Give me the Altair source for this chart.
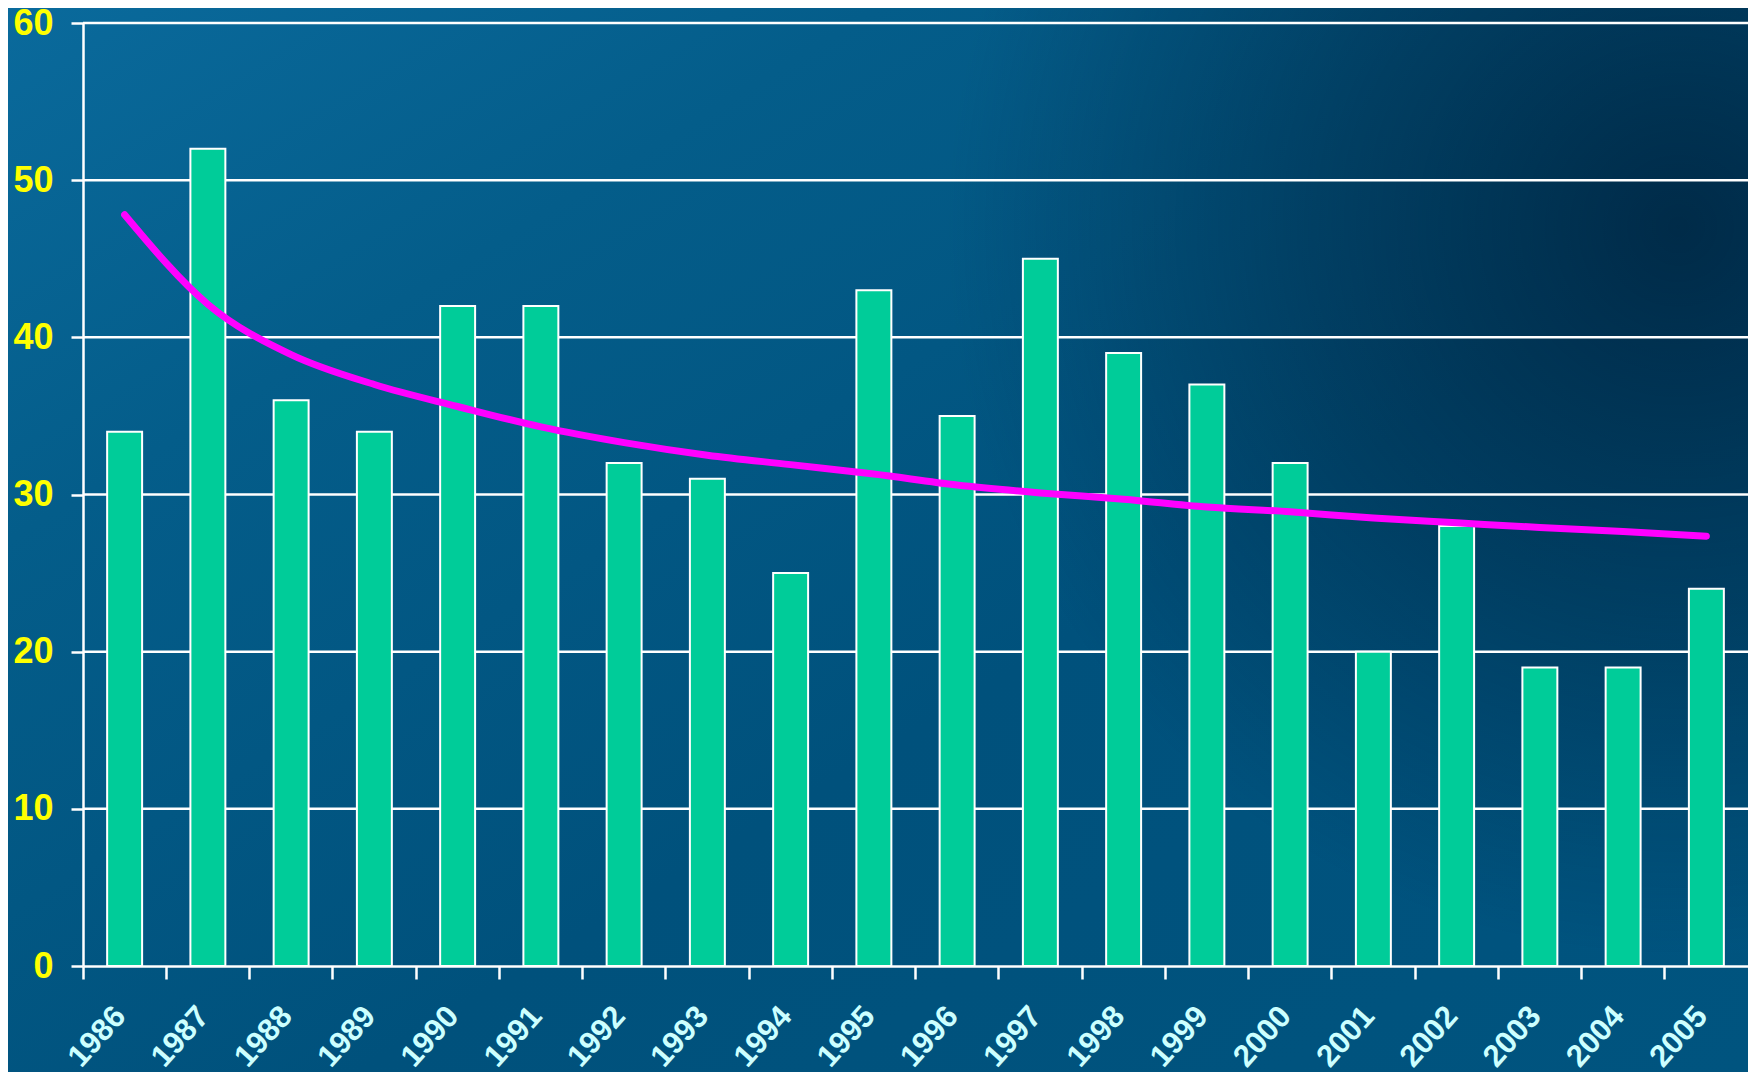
import altair as alt
import pandas as pd

# ---- data ----
years = [str(y) for y in range(1986, 2006)]
counts = [34, 52, 36, 34, 42, 42, 32, 31, 25, 43, 35, 45, 39, 37, 32, 20, 28, 19, 19, 24]
trend = [47.8, 42.1, 38.9, 37.0, 35.6, 34.3, 33.3, 32.5, 31.9, 31.3,
         30.6, 30.1, 29.7, 29.2, 28.9, 28.5, 28.2, 27.9, 27.65, 27.35]
y_ticks = [0, 10, 20, 30, 40, 50, 60]

W, H = 1665, 943
PL, PT, PR, PB = 75, 15, 0, 106

df = pd.DataFrame({"year": years, "count": counts, "trend": trend})
grid_df = pd.DataFrame({"v": y_ticks[1:]})
bg_df = pd.DataFrame({"k": [0]})

x_scale = alt.Scale(domain=years, paddingInner=0, paddingOuter=0)
y_scale = alt.Scale(domain=[0, 60], nice=False)

base_grad = alt.LinearGradient(
    gradient="linear", x1=0, y1=0, x2=1, y2=1,
    stops=[alt.GradientStop(color="#0a6a9c", offset=0),
           alt.GradientStop(color="#045d8a", offset=0.25),
           alt.GradientStop(color="#00517c", offset=0.6),
           alt.GradientStop(color="#00547f", offset=1)])
dark_grad = alt.RadialGradient(
    gradient="radial", x1=0.96, y1=0.32, x2=0.96, y2=0.32, r1=0, r2=0.42,
    stops=[alt.GradientStop(color="rgba(0,30,55,0.75)", offset=0),
           alt.GradientStop(color="rgba(0,30,55,0.4)", offset=0.5),
           alt.GradientStop(color="rgba(0,30,55,0)", offset=1)])

bg = alt.Chart(bg_df).mark_rect(fill=base_grad).encode(
    x=alt.value(-PL), x2=alt.value(W + PR), y=alt.value(-PT), y2=alt.value(H + PB))
bg2 = alt.Chart(bg_df).mark_rect(fill=dark_grad).encode(
    x=alt.value(-PL), x2=alt.value(W + PR), y=alt.value(-PT), y2=alt.value(H + PB))

y_axis = alt.Axis(title=None, values=y_ticks, labelFontSize=36,
                  labelFont="Liberation Sans", labelFontWeight="bold",
                  labelColor="#FFFF00", labelPadding=18, tickSize=12,
                  tickColor="white", tickWidth=2.5, domainColor="white",
                  domainWidth=2.5, grid=False, zindex=1, labelFlush=False,
                  labelOverlap=False, labelBound=False)
x_axis = alt.Axis(title=None, bandPosition=0, labelOffset=-4, labelAngle=-48,
                  labelAlign="right", labelBaseline="middle", labelFontSize=31,
                  labelFont="Liberation Sans", labelFontWeight="bold",
                  labelColor="#CCFFFF", labelPadding=32, tickSize=13,
                  tickColor="white", tickWidth=2.5, domainColor="white",
                  domainWidth=2.5, grid=False, zindex=1, labelBound=False,
                  labelOverlap=False, labelFlush=False)

grid = alt.Chart(grid_df).mark_rule(color="white", strokeWidth=2.5).encode(
    y=alt.Y("v:Q", scale=y_scale, axis=y_axis),
    x=alt.value(0), x2=alt.value(W))

bars = alt.Chart(df).mark_bar(color="#00CC99", stroke="white", strokeWidth=2,
                              width=alt.RelativeBandSize(0.42)).encode(
    x=alt.X("year:N", scale=x_scale, axis=x_axis, sort=years),
    y=alt.Y("count:Q", scale=y_scale))

line = alt.Chart(df).mark_line(color="#FF00FF", strokeWidth=7,
                               interpolate="monotone", strokeCap="round").encode(
    x=alt.X("year:N", scale=x_scale, sort=years),
    y=alt.Y("trend:Q", scale=y_scale))

chart = alt.layer(bg, bg2, grid, bars, line).properties(
    width=W, height=H,
    padding={"left": PL, "top": PT, "right": PR, "bottom": PB},
    autosize=alt.AutoSizeParams(type="none"),
    background="#00527e",
).configure_view(strokeWidth=0)

chart.save("out.html", embed_options={"renderer": "svg", "actions": False})
